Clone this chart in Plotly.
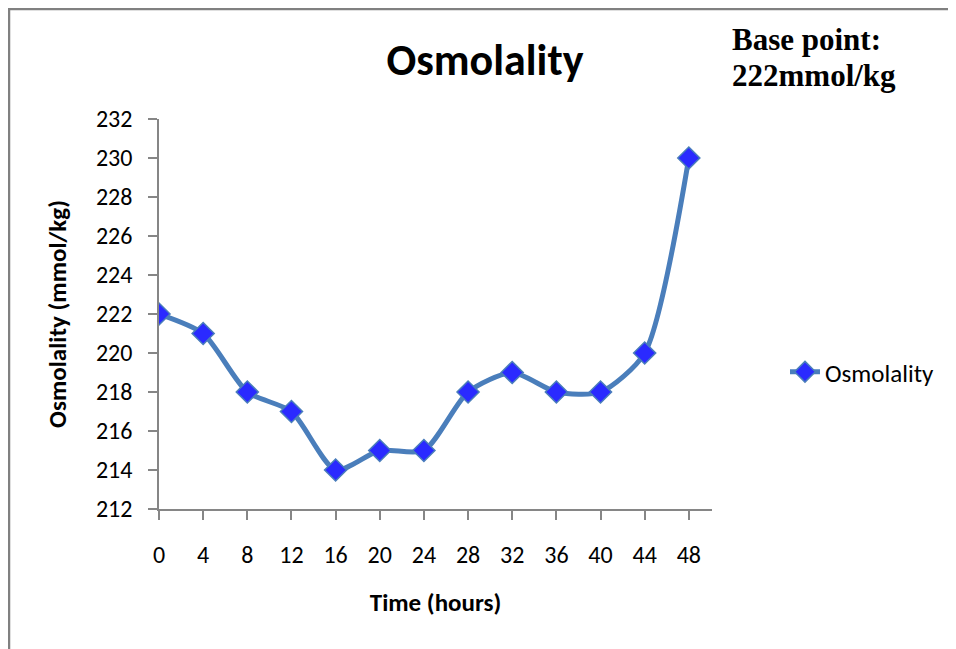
import plotly.graph_objects as go

# ---- data ----
hours = [0, 4, 8, 12, 16, 20, 24, 28, 32, 36, 40, 44, 48]
osmolality = [222, 221, 218, 217, 214, 215, 215, 218, 219, 218, 218, 220, 230]
y_ticks = [212, 214, 216, 218, 220, 222, 224, 226, 228, 230, 232]
series_name = "Osmolality"

# page has an 8px body margin, so the figure is drawn 8px in from the window edge
OFF = 8
W, H = 956 - OFF, 649 - OFF
L, R, T, B = 159 - OFF, 712 - OFF, 119 - OFF, 509 - OFF   # plot area (figure px)
pw, ph = R - L, B - T

def px_x(p):
    return (p - L) / pw

def px_y(p):
    return (B - p) / ph

FONT = "Calibri, Carlito, Lato, sans-serif"
SERIF = "Liberation Serif, Times New Roman, serif"
AXIS_COLOR = "#868686"

fig = go.Figure()
fig.add_trace(go.Scatter(
    x=hours, y=osmolality, name=series_name, mode="lines+markers",
    line=dict(color="#4A7EBB", width=5, shape="spline", smoothing=0.7),
    marker=dict(symbol="diamond", size=17, color="#2A2AFF",
                line=dict(color="#4A7EBB", width=1.5)),
))

fig.update_layout(
    width=W, height=H,
    margin=dict(l=L, r=W - R, t=T, b=H - B),
    paper_bgcolor="white", plot_bgcolor="white",
    font=dict(family=FONT, color="black", size=24),
    title=dict(text="<b>Osmolality</b>", x=(485 - OFF) / W, xref="container",
               xanchor="center", y=1 - (60 - OFF) / H, yref="container", yanchor="middle",
               font=dict(family=FONT, size=44, color="black")),
    showlegend=True,
    legend=dict(x=px_x(777), y=px_y(364), xanchor="left", yanchor="middle",
                font=dict(family=FONT, size=25, color="black"),
                bgcolor="rgba(0,0,0,0)"),
    xaxis=dict(range=[0, 50.1], tickvals=hours, ticktext=[str(h) for h in hours],
               showgrid=False, zeroline=False, showline=True, linecolor=AXIS_COLOR,
               linewidth=1.5, ticks="outside", ticklen=9, tickcolor=AXIS_COLOR,
               tickwidth=1.5, ticklabelstandoff=14,
               tickfont=dict(family=FONT, size=24, color="black"),
               title=dict(text="<b>Time (hours)</b>", standoff=26,
                          font=dict(family=FONT, size=25, color="black"))),
    yaxis=dict(range=[212, 232], tickvals=y_ticks,
               showgrid=False, zeroline=False, showline=True, linecolor=AXIS_COLOR,
               linewidth=1.5, ticks="outside", ticklen=9, tickcolor=AXIS_COLOR,
               tickwidth=1.5, ticklabelstandoff=11,
               tickfont=dict(family=FONT, size=24, color="black"),
               title=dict(text="<b>Osmolality (mmol/kg)</b>", standoff=22,
                          font=dict(family=FONT, size=25, color="black"))),
)

# page border (top and left edges visible)
fig.add_shape(type="rect", xref="paper", yref="paper",
              x0=px_x(1), x1=px_x(W + 20), y0=px_y(H + 20), y1=px_y(1),
              line=dict(color="#808080", width=2.5), layer="below")

fig.add_annotation(text="<b>Base point:</b>", xref="paper", yref="paper",
                   x=px_x(722), y=px_y(12), xanchor="left", yanchor="top",
                   align="left", showarrow=False,
                   font=dict(family=SERIF, size=31, color="black"))
fig.add_annotation(text="<b>222mmol/kg</b>", xref="paper", yref="paper",
                   x=px_x(722), y=px_y(48), xanchor="left", yanchor="top",
                   align="left", showarrow=False,
                   font=dict(family=SERIF, size=31, color="black"))

fig.write_html("out.html")
